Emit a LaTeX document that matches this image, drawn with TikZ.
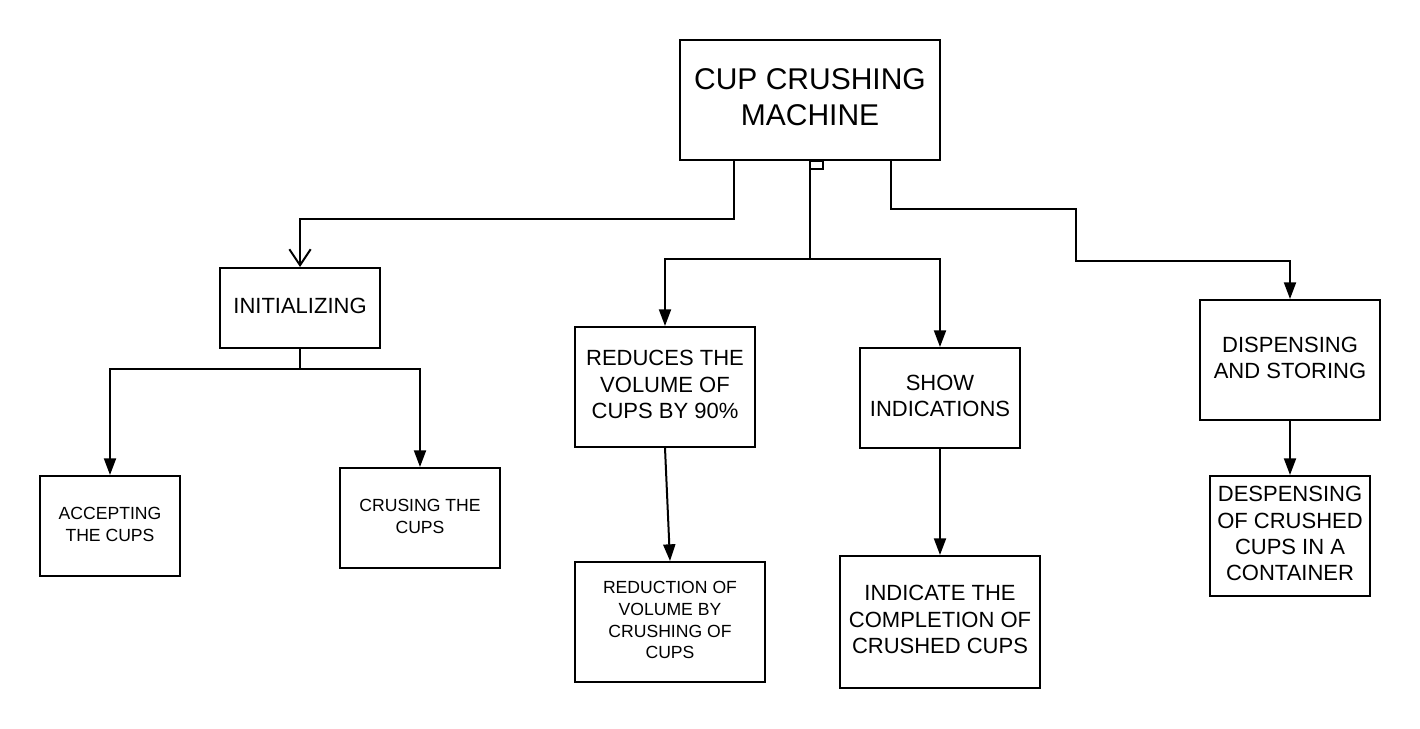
\documentclass[tikz,border=0pt]{standalone}
\usepackage{fontspec}
\setmainfont{Liberation Sans}
\usetikzlibrary{arrows.meta,calc}
\newcommand{\liftbox}[1]{\raisebox{0pt}[\height][\depth]{\begin{tabular}{@{}c@{}}#1\end{tabular}}}
\begin{document}
\begin{tikzpicture}[x=0.75pt,y=-0.75pt,
  line width=1.5pt,
  box/.style={draw,line width=1.5pt,inner sep=2pt},
  big/.style={font=\fontsize{22.5pt}{27pt}\selectfont},
  mid/.style={font=\fontsize{16.5pt}{19.8pt}\selectfont},
  small/.style={font=\fontsize{13.2pt}{16.2pt}\selectfont},
  arr/.style={-{Triangle[length=12.5pt,width=9pt]}},
  openarr/.style={-{Straight Barb[length=12pt,width=16pt,line width=1.5pt]}}]
\useasboundingbox (0,0) rectangle (1420,728);
\fill[white] (0,0) rectangle (1420,728);

\node[box,big,minimum width=195pt,minimum height=90pt] (top) at (810,100) {\liftbox{CUP CRUSHING\\MACHINE}};
\node[box,mid,minimum width=120pt,minimum height=60pt] (init) at (300,308) {\liftbox{INITIALIZING}};
\node[box,small,minimum width=105pt,minimum height=75pt] (acc) at (110,526) {\liftbox{ACCEPTING\\THE CUPS}};
\node[box,small,minimum width=120pt,minimum height=75pt] (crus) at (420,518) {\liftbox{CRUSING THE\\CUPS}};
\node[box,mid,minimum width=135pt,minimum height=90pt] (red) at (665,387) {\liftbox{REDUCES THE\\VOLUME OF\\CUPS BY 90\%}};
\node[box,small,minimum width=142.5pt,minimum height=90pt] (redn) at (670,622) {\liftbox{REDUCTION OF\\VOLUME BY\\CRUSHING OF\\CUPS}};
\node[box,mid,minimum width=120pt,minimum height=75pt] (show) at (940,398) {\liftbox{SHOW\\INDICATIONS}};
\node[box,mid,minimum width=150pt,minimum height=99pt] (ind) at (940,622) {\liftbox{INDICATE THE\\COMPLETION OF\\CRUSHED CUPS}};
\node[box,mid,minimum width=135pt,minimum height=90pt] (disp) at (1290,360) {\liftbox{DISPENSING\\AND STORING}};
\node[box,mid,minimum width=120pt,minimum height=90pt] (desp) at (1290,536) {\liftbox{DESPENSING\\OF CRUSHED\\CUPS IN A\\CONTAINER}};

% top to initializing
\draw[openarr] (top.south west) ++(55,0) -- ++(0,58) -| (init.north);
% top to middle
\draw (top.south) rectangle ++(13,8);
\draw (top.south) -- ++(0,98) coordinate (split);
\draw[arr] (split) -| (red.north);
\draw[arr] (split) -| (show.north);
% top to dispensing
\draw[arr] (top.south east) ++(-50,0) -- ++(0,48) -- ++(185,0) -- ++(0,52) -| (disp.north);
% initializing children
\draw (init.south) -- ++(0,20) coordinate (split2);
\draw[arr] (split2) -| (acc.north);
\draw[arr] (split2) -| (crus.north);
% others
\draw[arr] (red.south) -- (redn.north);
\draw[arr] (show.south) -- (ind.north);
\draw[arr] (disp.south) -- (desp.north);
\end{tikzpicture}
\end{document}
